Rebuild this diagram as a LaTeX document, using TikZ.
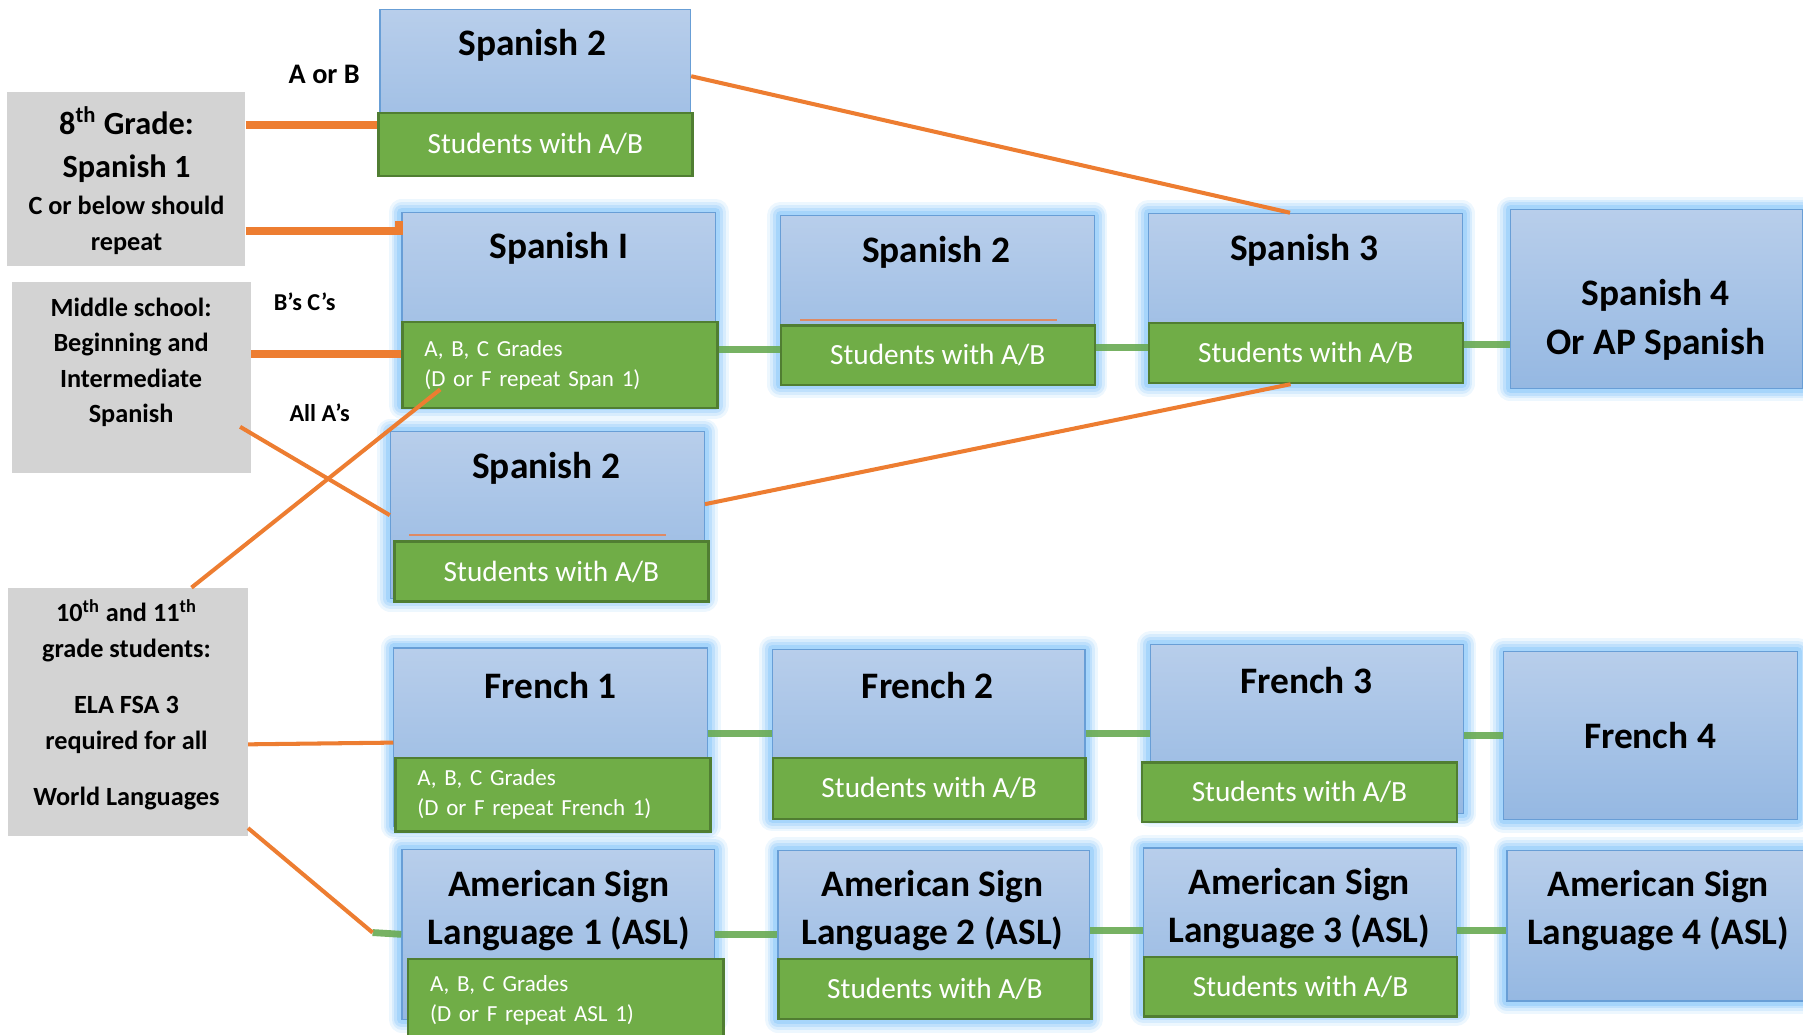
\documentclass[tikz,border=0pt]{standalone}
\usepackage{fontspec}
\setmainfont{Carlito}
\frenchspacing
\definecolor{blueTop}{RGB}{184,206,235}
\definecolor{blueBot}{RGB}{149,184,226}
\definecolor{boxline}{RGB}{104,158,214}
\definecolor{glow}{RGB}{135,198,250}
\definecolor{leafgreen}{RGB}{112,173,71}
\definecolor{leafline}{RGB}{80,126,50}
\definecolor{linkgreen}{RGB}{104,170,82}
\definecolor{boxgray}{RGB}{211,211,211}
\definecolor{burnt}{RGB}{237,125,49}
\definecolor{salmon}{RGB}{222,138,100}
\tikzset{course/.style={rectangle, draw=boxline, line width=0.6pt, top color=blueTop, bottom color=blueBot, anchor=north west, inner sep=0pt},
         glowing/.style={preaction={draw=glow, line width=4.6mm, opacity=.15, line join=round},
                         preaction={draw=glow, line width=3.6mm, opacity=.22, line join=round},
                         preaction={draw=glow, line width=2.6mm, opacity=.3, line join=round},
                         preaction={draw=glow, line width=1.6mm, opacity=.45, line join=round}},
         grades/.style={rectangle, draw=leafline, line width=1.2pt, fill=leafgreen, anchor=north west, text=white, font=\fontsize{14.5}{17}\selectfont},
         gradesnote/.style={grades, align=left, text width=47.2mm, inner xsep=3.8mm, font=\fontsize{11.4}{14.7}\selectfont},
         title/.style={font=\fontsize{18.5}{24}\selectfont\bfseries, align=center, inner sep=0pt},
         info/.style={rectangle, fill=boxgray, anchor=north west, inner sep=0pt},
         infotext/.style={font=\fontsize{13}{17.6}\selectfont\bfseries, align=center, inner sep=0pt},
         tag/.style={font=\fontsize{12}{14}\selectfont\bfseries, inner sep=0pt},
         jump/.style={draw=burnt, line width=3.6pt},
         branch/.style={draw=burnt, line width=2pt},
         chain/.style={draw=linkgreen, line width=3.4pt, opacity=.9},
         redline/.style={draw=salmon, line width=1pt}
}
\begin{document}
\begin{tikzpicture}[x=0.2mm, y=-0.2mm]
    \useasboundingbox (0,0) rectangle (1568,900);
    \clip (0,0) rectangle (1568,900);

    % side notes
    \node[info, minimum width=41.4mm, minimum height=30.2mm] (g1) at (6,80)  {};
    \node[info, minimum width=41.6mm, minimum height=33.2mm] (g2) at (10,245) {};
    \node[info, minimum width=41.6mm, minimum height=43.2mm] (g3) at (7,511)  {};
    \node[infotext] (g1t) at (110,157) {\fontsize{16}{17.6}\selectfont 8\textsuperscript{th} Grade:\\[3.4pt]
        \fontsize{16}{17.6}\selectfont Spanish 1\\[1pt]
        \fontsize{13}{17.6}\selectfont C or below should\\
        \fontsize{13}{17.6}\selectfont repeat};
    \node[infotext] (g2t) at (114,315) {Middle school:\\ Beginning and\\ Intermediate\\ Spanish};
    \node[infotext] (g3t) at (110,613) {10\textsuperscript{th} and 11\textsuperscript{th}\\ grade students:\\[10.2pt]
        ELA FSA 3\\ required for all\\[10.2pt] World Languages};

    \node[tag, font=\fontsize{14}{16}\selectfont\bfseries] (aorb) at (282,65) {A or B};
    \node[tag] (bc)   at (265,262) {B’s C’s};
    \node[tag] (alla) at (278,359) {All A’s};

    % Spanish
    \node[course, minimum width=54mm,   minimum height=28.8mm]         (s2top) at (330,8)    {};
    \node[course, glowing, minimum width=54.6mm, minimum height=33.6mm] (sp1)  at (349,184)  {};
    \node[course, glowing, minimum width=54.6mm, minimum height=29.4mm] (sp2)  at (678,187)  {};
    \node[course, glowing, minimum width=54.6mm, minimum height=29.6mm] (sp3)  at (998,185)  {};
    \node[course, glowing, minimum width=50.8mm, minimum height=31mm]   (sp4)  at (1313,182) {};
    \node[course, glowing, minimum width=54.6mm, minimum height=29mm]   (sp2b) at (339,375)  {};

    \node[grades, minimum width=54.6mm, minimum height=11mm]   (s2topg) at (328,97)  {Students with A/B};
    \node[gradesnote, minimum height=15mm]                     (sp1g)   at (349,279) {A, B, C Grades\\(D or F repeat Span 1)};
    \node[grades, minimum width=54.6mm, minimum height=10.4mm] (sp2g)   at (678,282) {Students with A/B};
    \node[grades, minimum width=54.6mm, minimum height=10.4mm] (sp3g)   at (998,280) {Students with A/B};
    \node[grades, minimum width=54.6mm, minimum height=10.4mm] (sp2bg)  at (342,470) {Students with A/B};

    \node[title] (s2topt) at (463,39)   {Spanish 2};
    \node[title] (sp1t)   at (486,216)  {Spanish I};
    \node[title] (sp2t)   at (814,219)  {Spanish 2};
    \node[title] (sp3t)   at (1134,218) {Spanish 3};
    \node[title] (sp4t)   at (1440,278) {Spanish 4\\Or AP Spanish};
    \node[title] (sp2bt)  at (475,407)  {Spanish 2};

    \draw[redline] ([xshift=3.6mm,yshift=0.8mm]sp2g.north west) -- ([xshift=-6.8mm,yshift=0.8mm]sp2g.north east);
    \draw[redline] ([xshift=2.8mm,yshift=1mm]sp2bg.north west) -- ([xshift=-7.6mm,yshift=1mm]sp2bg.north east);

    % French
    \node[course, glowing, minimum width=54.6mm, minimum height=31mm]   (fr1) at (342,563)  {};
    \node[course, glowing, minimum width=54.4mm, minimum height=29.4mm] (fr2) at (671,564)  {};
    \node[course, glowing, minimum width=54.4mm, minimum height=29.4mm] (fr3) at (1000,560) {};
    \node[course, glowing, minimum width=51.2mm, minimum height=29.2mm] (fr4) at (1307,566) {};

    \node[gradesnote, minimum height=12.8mm]                   (fr1g) at (343,658) {A, B, C Grades\\(D or F repeat French 1)};
    \node[grades, minimum width=54.4mm, minimum height=10.6mm] (fr2g) at (671,658) {Students with A/B};
    \node[grades, minimum width=54.8mm, minimum height=10.4mm] (fr3g) at (992,662) {Students with A/B};

    \node[title] (fr1t) at (479,596)  {French 1};
    \node[title] (fr2t) at (807,596)  {French 2};
    \node[title] (fr3t) at (1136,592) {French 3};
    \node[title] (fr4t) at (1435,640) {French 4};

    % American Sign Language
    \node[course, glowing, minimum width=54.4mm, minimum height=29.6mm] (asl1) at (349,738)  {};
    \node[course, glowing, minimum width=54.2mm, minimum height=29.4mm] (asl2) at (676,739)  {};
    \node[course, glowing, minimum width=54.4mm, minimum height=28.6mm] (asl3) at (994,737)  {};
    \node[course, glowing, minimum width=52.8mm, minimum height=26.2mm] (asl4) at (1310,739) {};

    \node[gradesnote, minimum height=14.4mm]                   (asl1g) at (354,833) {A, B, C Grades\\(D or F repeat ASL 1)};
    \node[grades, minimum width=54.4mm, minimum height=10.4mm] (asl2g) at (676,833) {Students with A/B};
    \node[grades, minimum width=54.4mm, minimum height=10.4mm] (asl3g) at (994,831) {Students with A/B};

    \node[title] (asl1t) at (486,792)  {American Sign\\Language 1 (ASL)};
    \node[title] (asl2t) at (811,792)  {American Sign\\Language 2 (ASL)};
    \node[title] (asl3t) at (1130,790) {American Sign\\Language 3 (ASL)};
    \node[title] (asl4t) at (1442,792) {American Sign\\Language 4 (ASL)};

    % green chains
    \draw[chain] (sp1g.east |- sp2g.178) -- (sp2g.178);
    \draw[chain] (sp2g.east |- sp3g.178) -- (sp3g.178);
    \draw[chain] (sp3g.3) -- (sp3g.3 -| sp4.west);
    \draw[chain] (fr1.east |- fr2.west) -- (fr2.west);
    \draw[chain] (fr2.east) -- (fr2.east -| fr3.west);
    \draw[chain] (fr3.east |- fr4.west) -- (fr4.west);
    \coordinate (aslstub) at (324,811);
    \draw[chain] (aslstub) -- (asl1.west);
    \draw[chain] (asl1.east) -- (asl1.east -| asl2.west);
    \draw[chain] (asl2.east |- asl3.west) -- (asl3.west);
    \draw[chain] (asl3.east) -- (asl3.east -| asl4.west);

    % orange routes
    \draw[jump] (g1.east |- s2topg.173) -- (s2topg.173);
    \coordinate (sp1hook) at (347,201);
    \draw[jump] (g1.east |- sp1hook) -- (sp1hook) -- ++(0,-9);
    \draw[jump] (g2.east |- sp1g.176) -- (sp1g.176);
    \draw[branch] (s2top.6) -- (sp3.100);
    \draw[branch] (sp2b.4) -- (sp3g.244);
    \draw[branch, shorten <=-2.3mm] (g2.-25) -- (sp2b.west);
    \draw[branch, shorten >=-5.6mm] (g3.63) -- (sp1g.197);
    \draw[branch] (g3.-15) -- (fr1.182);
    \draw[branch] (g3.-44) -- (aslstub);
\end{tikzpicture}
\end{document}
